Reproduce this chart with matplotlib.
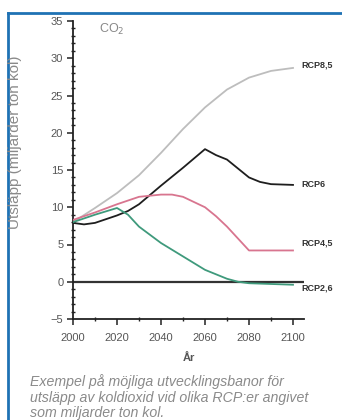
"""CO2 emission pathways for the four RCP scenarios (Swedish caption)."""
import matplotlib
matplotlib.use("Agg")
import matplotlib.pyplot as plt
from matplotlib.lines import Line2D

plt.rcParams["font.family"] = ["Liberation Sans", "DejaVu Sans"]

# --- data (miljarder ton kol per år) ----------------------------------------
RCP85_YEARS = [2000, 2010, 2020, 2030, 2040, 2050, 2060, 2070, 2080, 2090, 2100]
RCP85_VALUES = [8.0, 9.9, 11.9, 14.3, 17.3, 20.5, 23.4, 25.8, 27.4, 28.3, 28.7]

RCP6_YEARS = [2000, 2005, 2010, 2020, 2025, 2030, 2040, 2050, 2060, 2065,
              2070, 2075, 2080, 2085, 2090, 2100]
RCP6_VALUES = [7.9, 7.7, 7.9, 8.9, 9.5, 10.4, 12.9, 15.3, 17.8, 17.0,
               16.4, 15.2, 14.0, 13.4, 13.1, 13.0]

RCP45_YEARS = [2000, 2010, 2020, 2030, 2040, 2045, 2050, 2055, 2060, 2065,
               2070, 2075, 2080, 2090, 2100]
RCP45_VALUES = [8.3, 9.3, 10.4, 11.4, 11.7, 11.7, 11.4, 10.7, 10.0, 8.8,
                7.4, 5.8, 4.2, 4.2, 4.2]

RCP26_YEARS = [2000, 2010, 2020, 2025, 2030, 2040, 2050, 2060, 2070, 2075,
               2080, 2090, 2100]
RCP26_VALUES = [8.0, 9.0, 9.9, 9.0, 7.4, 5.2, 3.4, 1.6, 0.4, 0.0,
                -0.2, -0.3, -0.4]

# (label, label y-position, years, values, colour)
SERIES = [
    ("RCP8,5", 29.1, RCP85_YEARS, RCP85_VALUES, "#bdbdbd"),
    ("RCP6", 13.0, RCP6_YEARS, RCP6_VALUES, "#1e1e1e"),
    ("RCP4,5", 5.2, RCP45_YEARS, RCP45_VALUES, "#d8758f"),
    ("RCP2,6", -0.8, RCP26_YEARS, RCP26_VALUES, "#3f9a7c"),
]

X_TICKS = [2000, 2020, 2040, 2060, 2080, 2100]
Y_TICKS = [-5, 0, 5, 10, 15, 20, 25, 30, 35]

CAPTION = ("Exempel på möjliga utvecklingsbanor för\n"
           "utsläpp av koldioxid vid olika RCP:er angivet\n"
           "som miljarder ton kol.")

W, H = 342, 420
fig = plt.figure(figsize=(W / 100, H / 100), dpi=100, facecolor="white")
ax = fig.add_axes([73 / W, 1 - 319 / H, 231 / W, 298 / H])

ax.set_xlim(2000, 2105)
ax.set_ylim(-5, 35)
ax.axhline(0, color="#333333", linewidth=1.6, zorder=2)

for label, ly, years, values, color in SERIES:
    ax.plot(years, values, color=color, linewidth=1.3, zorder=3)
    ax.text(2104, ly, label, ha="left", va="center", fontsize=6.5,
            fontweight="bold", color="#333333", clip_on=False)

ax.text(2012, 33.8, "CO$_2$", ha="left", va="center", fontsize=9,
        color="#888888")

for side in ("top", "right"):
    ax.spines[side].set_visible(False)
for side in ("left", "bottom"):
    ax.spines[side].set_color("#222222")
    ax.spines[side].set_linewidth(1.3)

ax.set_xticks(X_TICKS)
ax.set_xticks(range(2010, 2100, 20), minor=True)
ax.set_yticks(Y_TICKS)
ax.set_yticks([v for v in range(-5, 36) if v % 5], minor=True)
ax.tick_params(axis="both", which="major", direction="out", length=4,
               width=1.1, color="#222222", labelsize=8, labelcolor="#555555")
ax.tick_params(axis="y", which="major", pad=3)
ax.tick_params(axis="x", which="major", pad=6)
ax.tick_params(axis="both", which="minor", direction="inout", length=3,
               width=1.0, color="#222222")

ax.set_xlabel("År", fontsize=8, fontweight="bold", color="#555555",
              labelpad=7)
fig.text(15 / W, 1 - 142 / H, "Utsläpp (miljarder ton kol)", rotation=90,
         ha="center", va="center", fontsize=11, color="#8a8a8a")

fig.text(30 / W, 1 - 374 / H, CAPTION, ha="left", va="top", fontsize=10.2,
         style="italic", color="#8a8a8a", linespacing=1.15)

# blue frame on the left and top edges (runs off the right/bottom)
blue = "#1f72b4"
fig.add_artist(Line2D([7.5 / W, 7.5 / W], [0, 1 - 12.5 / H], color=blue,
                      linewidth=2.0, transform=fig.transFigure))
fig.add_artist(Line2D([7.5 / W, 1], [1 - 12.5 / H, 1 - 12.5 / H], color=blue,
                      linewidth=2.0, transform=fig.transFigure))

fig.savefig("out.png", dpi=100, facecolor="white")
